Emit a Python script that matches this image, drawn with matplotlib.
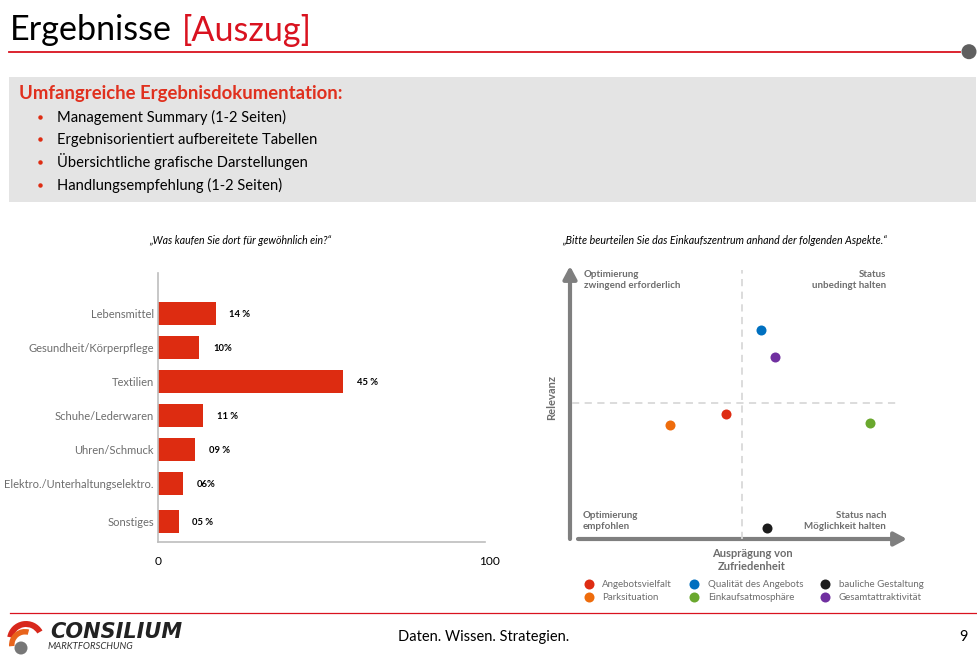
import matplotlib
matplotlib.use('Agg')
import matplotlib.pyplot as plt
from matplotlib.patches import Rectangle, Circle, Wedge

plt.rcParams['font.family'] = ['Lato', 'DejaVu Sans']

# bar chart data
categories = ['Lebensmittel', 'Gesundheit/Körperpflege', 'Textilien', 'Schuhe/Lederwaren',
              'Uhren/Schmuck', 'Elektro./Unterhaltungselektro.', 'Sonstiges']
shares = [14, 10, 45, 11, 9, 6, 5]
share_labels = ['14 %', '10%', '45 %', '11 %', '09 %', '06%', '05 %']
bar_rows = [0, 1, 2, 3, 4, 5, 6.12]

# portfolio data
aspects = ['Angebotsvielfalt', 'Parksituation', 'Qualität des Angebots',
           'Einkaufsatmosphäre', 'bauliche Gestaltung', 'Gesamtattraktivität']
satisfaction = [46.4, 29.8, 56.8, 89.3, 58.6, 61]
relevance = [46, 42, 77, 42.6, 4.1, 67]
aspect_colors = ['#de2c12', '#ee6c0c', '#0070c0', '#6aa82e', '#1c1c1c', '#7030a0']

bullets = ['Management Summary (1-2 Seiten)', 'Ergebnisorientiert aufbereitete Tabellen',
           'Übersichtliche grafische Darstellungen', 'Handlungsempfehlung (1-2 Seiten)']

W, H = 978, 655
RED = '#de2c12'
LINE_RED = '#d9121f'
GREY = '#7f7f7f'
TXT = '#6d6d6d'

fig = plt.figure(figsize=(W / 100, H / 100), dpi=100)


def px_axes(left, top, right, bottom):
    return fig.add_axes([left / W, 1 - bottom / H, (right - left) / W, (bottom - top) / H])


# page furniture in pixel coordinates
page = fig.add_axes([0, 0, 1, 1])
page.set_xlim(0, W)
page.set_ylim(H, 0)
page.axis('off')

page.text(10, 30.5, 'Ergebnisse', fontsize=24.6, color='black', va='center')
page.text(182, 30.5, '[Auszug]', fontsize=24.6, color='#d9121f', va='center')
page.plot([9, 960], [52, 52], color=LINE_RED, lw=1.3)
page.add_patch(Circle((969, 51.7), 6.8, color='#5f5f5f'))

page.add_patch(Rectangle((9, 77), 967, 125, color='#e4e4e4', lw=0))
page.text(19, 93.5, 'Umfangreiche Ergebnisdokumentation:', fontsize=13.3, fontweight='bold',
          color='#e0301e', va='center')
for yy, line in zip([117.3, 139, 162, 185], bullets):
    page.plot(40, yy, 'o', color=RED, ms=2.2)
    page.text(57, yy + 5, line, fontsize=10.6, color='black', va='baseline')

page.text(149, 241, '„Was kaufen Sie dort für gewöhnlich ein?“', fontsize=7.6, style='italic',
          color='black', va='center')
page.text(562, 241, '„Bitte beurteilen Sie das Einkaufszentrum anhand der folgenden Aspekte.“',
          fontsize=7.64, style='italic', color='black', va='center')

# footer
page.plot([10, 976], [613, 613], color=LINE_RED, lw=0.9)
page.text(484, 637, 'Daten. Wissen. Strategien.', fontsize=10.5, ha='center', va='center')
page.text(963, 637, '9', fontsize=10.5, ha='center', va='center')

# logo
page.add_patch(Wedge((26, 640), 19, -170, -30, width=6, color='#d8281c', lw=0))
page.add_patch(Wedge((25, 645), 16, -185, -75, width=5.5, color='#e8641c', lw=0))
page.add_patch(Circle((21, 648), 6.5, color='#777777', lw=0))
page.text(50, 632, 'CONSILIUM', fontsize=15, style='italic', fontweight='bold',
          family=['DejaVu Sans'], color='#222222', va='center')
page.text(48, 646.5, 'MARKTFORSCHUNG', fontsize=6.8, style='italic', color='#333333', va='center')

# bar chart
x_end = 79.5
ax = px_axes(158, 273, 485, 541.7)
ax.patch.set_alpha(0)
ax.barh(bar_rows, shares, height=0.68, color='#dd2c11')
ax.set_yticks(bar_rows, categories, fontsize=8.05, color=TXT)
ax.set_xticks([0], ['0'], fontsize=8.6, color='black')
ax.set_xlim(0, x_end)
ax.set_ylim(6.72, -1.185)
ax.tick_params(axis='y', length=0, pad=3)
ax.tick_params(axis='x', length=0, pad=10.5)
ax.annotate('100', (x_end, 0), xycoords=('data', 'axes fraction'), xytext=(3.5, -10.5),
            textcoords='offset points', fontsize=8.6, ha='center', va='top')
for s in ['top', 'right']:
    ax.spines[s].set_visible(False)
for s in ['left', 'bottom']:
    ax.spines[s].set_color('#bdbdbd')
    ax.spines[s].set_linewidth(1.2)
for row, val, lab in zip(bar_rows, shares, share_labels):
    ax.annotate(lab, (val, row), xytext=(10, -0.7), textcoords='offset points', fontsize=6.8,
                fontweight='bold', color='black', va='center')

# portfolio chart
pf = px_axes(570, 267, 906, 539)
pf.patch.set_alpha(0)
pf.set_xlim(0, 100)
pf.set_ylim(0, 100)
pf.set_xticks([])
pf.set_yticks([])
for s in pf.spines.values():
    s.set_visible(False)
pf.axvline(51.2, ymax=0.99, color='#d9d9d9', lw=1.3, ls=(0, (4, 3)))
pf.axhline(50, xmin=0.005, xmax=0.97, color='#d9d9d9', lw=1.3, ls=(0, (4, 3)))
for x, y, c, name in zip(satisfaction, relevance, aspect_colors, aspects):
    pf.scatter(x, y, s=52, color=c, label=name, clip_on=False, zorder=3, lw=0)

page.annotate('', xy=(570, 266), xytext=(570, 539),
              arrowprops=dict(arrowstyle='-|>,head_length=0.75,head_width=0.4', color=GREY, lw=3,
                              shrinkA=0, shrinkB=0))
page.annotate('', xy=(907, 539), xytext=(578, 539),
              arrowprops=dict(arrowstyle='-|>,head_length=0.75,head_width=0.4', color=GREY, lw=3,
                              shrinkA=0, shrinkB=0))

q_style = dict(fontsize=7, fontweight='bold', color=TXT, va='center', linespacing=1.35)
page.text(584, 280, 'Optimierung\nzwingend erforderlich', ha='left', **q_style)
page.text(886, 280, 'Status\nunbedingt halten', ha='right', **q_style)
page.text(583, 521, 'Optimierung\nempfohlen', ha='left', **q_style)
page.text(886, 521, 'Status nach\nMöglichkeit halten', ha='right', **q_style)
page.text(552, 398, 'Relevanz', fontsize=8, fontweight='bold', color=TXT, rotation=90,
          ha='center', va='center')
page.text(752, 560, 'Ausprägung von\nZufriedenheit', fontsize=8, fontweight='bold', color=TXT,
          ha='center', va='center', linespacing=1.3)

pf.legend(ncol=3, frameon=False, fontsize=7, labelcolor=TXT, loc='upper left',
          bbox_to_anchor=(0.027, -0.152), borderaxespad=0, borderpad=0, labelspacing=0.42,
          handletextpad=0.4, columnspacing=1.25, scatteryoffsets=[0.5])

fig.savefig('out.png', dpi=100)
